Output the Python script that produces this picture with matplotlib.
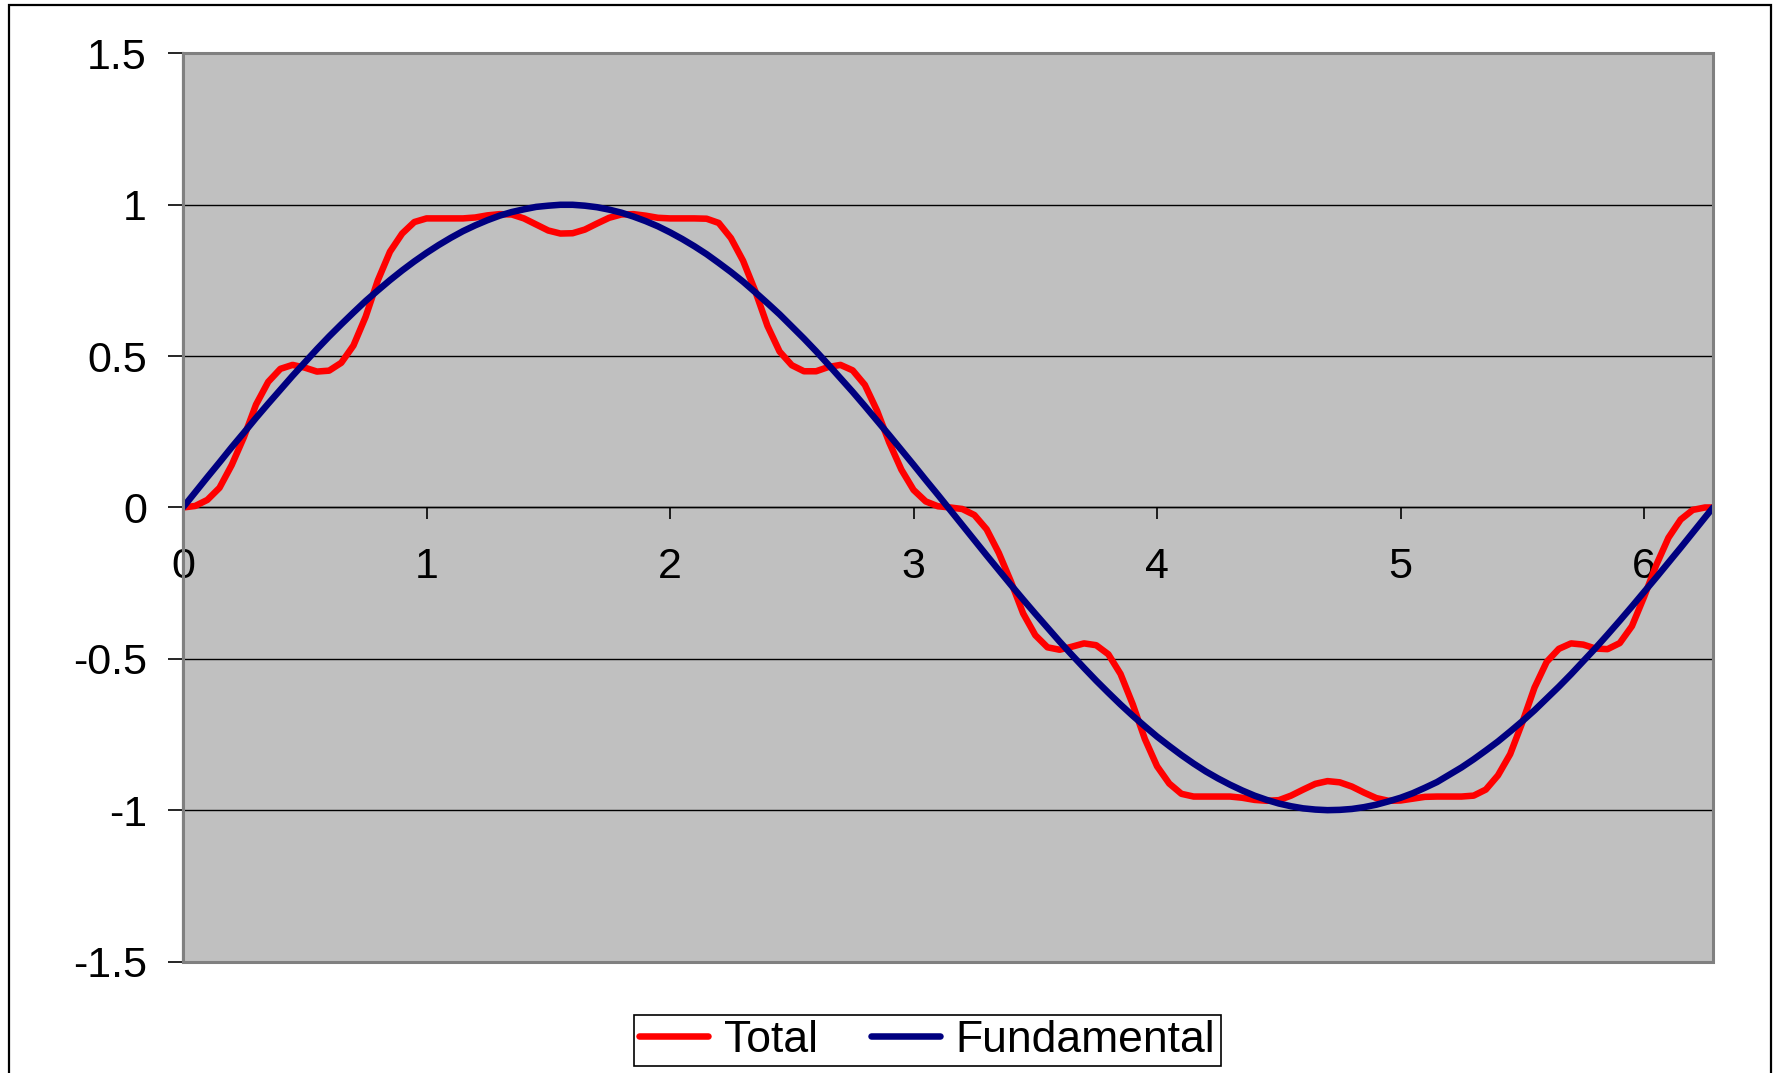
import matplotlib
matplotlib.use("Agg")
import matplotlib.pyplot as plt
from matplotlib.patches import Rectangle

plt.rcParams['font.family'] = ['Liberation Sans', 'DejaVu Sans']

# ---- data ----
x = [
    0.00, 0.05, 0.10, 0.15, 0.20, 0.25, 0.30, 0.35, 0.40, 0.45,
    0.50, 0.55, 0.60, 0.65, 0.70, 0.75, 0.80, 0.85, 0.90, 0.95,
    1.00, 1.05, 1.10, 1.15, 1.20, 1.25, 1.30, 1.35, 1.40, 1.45,
    1.50, 1.55, 1.60, 1.65, 1.70, 1.75, 1.80, 1.85, 1.90, 1.95,
    2.00, 2.05, 2.10, 2.15, 2.20, 2.25, 2.30, 2.35, 2.40, 2.45,
    2.50, 2.55, 2.60, 2.65, 2.70, 2.75, 2.80, 2.85, 2.90, 2.95,
    3.00, 3.05, 3.10, 3.15, 3.20, 3.25, 3.30, 3.35, 3.40, 3.45,
    3.50, 3.55, 3.60, 3.65, 3.70, 3.75, 3.80, 3.85, 3.90, 3.95,
    4.00, 4.05, 4.10, 4.15, 4.20, 4.25, 4.30, 4.35, 4.40, 4.45,
    4.50, 4.55, 4.60, 4.65, 4.70, 4.75, 4.80, 4.85, 4.90, 4.95,
    5.00, 5.05, 5.10, 5.15, 5.20, 5.25, 5.30, 5.35, 5.40, 5.45,
    5.50, 5.55, 5.60, 5.65, 5.70, 5.75, 5.80, 5.85, 5.90, 5.95,
    6.00, 6.05, 6.10, 6.15, 6.20, 6.25, 6.2832,
]

total = [
    0.000, 0.005, 0.025, 0.065, 0.140, 0.232, 0.340, 0.415, 0.458, 0.471,
    0.462, 0.449, 0.452, 0.478, 0.535, 0.630, 0.750, 0.845, 0.905, 0.943,
    0.955, 0.955, 0.955, 0.955, 0.958, 0.965, 0.969, 0.968, 0.955, 0.935,
    0.915, 0.905, 0.906, 0.918, 0.938, 0.957, 0.968, 0.969, 0.964, 0.957,
    0.955, 0.955, 0.955, 0.954, 0.940, 0.890, 0.815, 0.715, 0.600, 0.515,
    0.470, 0.450, 0.450, 0.464, 0.471, 0.453, 0.405, 0.320, 0.215, 0.125,
    0.058, 0.020, 0.004, 0.000, -0.005, -0.025, -0.072, -0.150, -0.245, -0.350,
    -0.422, -0.462, -0.470, -0.460, -0.449, -0.455, -0.485, -0.550, -0.650, -0.765,
    -0.855, -0.912, -0.946, -0.955, -0.955, -0.955, -0.955, -0.959, -0.966, -0.969,
    -0.967, -0.952, -0.932, -0.913, -0.904, -0.908, -0.922, -0.942, -0.960, -0.969,
    -0.968, -0.962, -0.956, -0.955, -0.955, -0.955, -0.952, -0.932, -0.885, -0.815,
    -0.710, -0.595, -0.510, -0.467, -0.449, -0.453, -0.466, -0.468, -0.448, -0.392,
    -0.295, -0.190, -0.100, -0.040, -0.008, 0.000, 0.000,
]

fundamental = [
    0.000, 0.050, 0.100, 0.149, 0.199, 0.247, 0.296, 0.343, 0.389, 0.435,
    0.479, 0.523, 0.565, 0.605, 0.644, 0.682, 0.717, 0.751, 0.783, 0.813,
    0.841, 0.867, 0.891, 0.913, 0.932, 0.949, 0.964, 0.976, 0.985, 0.993,
    0.997, 1.000, 1.000, 0.997, 0.992, 0.984, 0.974, 0.961, 0.946, 0.929,
    0.909, 0.887, 0.863, 0.837, 0.808, 0.778, 0.746, 0.711, 0.675, 0.638,
    0.598, 0.558, 0.516, 0.472, 0.427, 0.382, 0.335, 0.287, 0.239, 0.190,
    0.141, 0.091, 0.042, -0.008, -0.058, -0.108, -0.158, -0.207, -0.256, -0.304,
    -0.351, -0.397, -0.443, -0.487, -0.530, -0.572, -0.612, -0.651, -0.688, -0.723,
    -0.757, -0.788, -0.818, -0.846, -0.872, -0.895, -0.916, -0.935, -0.952, -0.966,
    -0.978, -0.987, -0.994, -0.998, -1.000, -0.999, -0.996, -0.990, -0.982, -0.971,
    -0.959, -0.944, -0.926, -0.907, -0.883, -0.859, -0.832, -0.803, -0.773, -0.740,
    -0.706, -0.670, -0.631, -0.592, -0.551, -0.508, -0.465, -0.420, -0.374, -0.327,
    -0.279, -0.231, -0.182, -0.133, -0.083, -0.033, 0.000,
]

x_ticks = [0, 1, 2, 3, 4, 5, 6]
x_tick_labels = ['0', '1', '2', '3', '4', '5', '6']
y_ticks = [-1.5, -1.0, -0.5, 0.0, 0.5, 1.0, 1.5]
y_tick_labels = ['-1.5', '-1', '-0.5', '0', '0.5', '1', '1.5']

# ---- figure ----
fig = plt.figure(figsize=(17.8, 10.73), dpi=100)
fig.patch.set_facecolor('white')
ax = fig.add_axes([0.1028, 0.1039, 0.8596, 0.8463])
ax.set_facecolor('#C0C0C0')

ax.plot(x, total, color='#FF0000', lw=4.7, label='Total',
        solid_joinstyle='round', solid_capstyle='round', zorder=3)
ax.plot(x, fundamental, color='#000080', lw=4.7, label='Fundamental',
        solid_joinstyle='round', solid_capstyle='round', zorder=4)

ax.set_xlim(0, 6.2832)
ax.set_ylim(-1.5, 1.5)
ax.set_xticks(x_ticks)
ax.set_xticklabels(x_tick_labels)
ax.set_yticks(y_ticks)
ax.set_yticklabels(y_tick_labels)

ax.yaxis.grid(True, color='black', lw=1.0, zorder=1)
ax.xaxis.grid(False)
ax.set_axisbelow(True)

for s in ['top', 'right']:
    ax.spines[s].set_visible(False)
ax.spines['left'].set_color('#202020')
ax.spines['left'].set_linewidth(1.5)
ax.spines['bottom'].set_position(('data', 0))
ax.spines['bottom'].set_color('black')
ax.spines['bottom'].set_linewidth(1.0)

ax.add_patch(Rectangle((0, 0), 1, 1, transform=ax.transAxes, fill=False,
                       edgecolor='#808080', lw=2.2, clip_on=False, zorder=5))

ax.tick_params(axis='y', direction='out', length=11, width=1.2, pad=15,
               labelsize=31, colors='black')
ax.tick_params(axis='x', direction='out', length=8.5, width=1.2, pad=20,
               labelsize=31, colors='black')

# outer chart frame
fig.add_artist(Rectangle((0.005, -0.01), 0.99, 1.0053, transform=fig.transFigure,
                         fill=False, edgecolor='black', lw=1.6))

leg = fig.legend(loc='center', bbox_to_anchor=(0.521, 0.0303), ncol=2,
                 fontsize=32, frameon=True, fancybox=False, edgecolor='black',
                 framealpha=1, handlelength=1.55, handletextpad=0.35,
                 columnspacing=1.2, borderpad=0.12, borderaxespad=0)
leg.get_frame().set_linewidth(1.2)

fig.savefig('out.png', dpi=100)
